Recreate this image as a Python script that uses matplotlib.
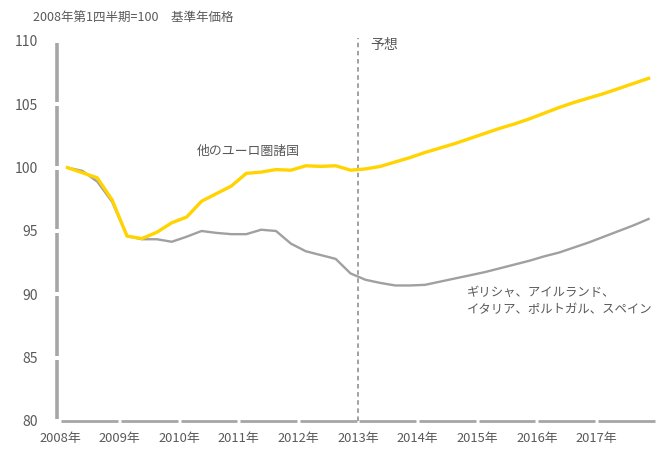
import matplotlib
matplotlib.use("Agg")
import matplotlib.pyplot as plt
import numpy as np

plt.rcParams['font.family'] = ['Noto Sans CJK JP', 'DejaVu Sans']

years = ["2008年", "2009年", "2010年", "2011年", "2012年",
         "2013年", "2014年", "2015年", "2016年", "2017年"]
y_ticks = [80, 85, 90, 95, 100, 105, 110]

# Quarterly index, 2008Q1 .. 2017Q4 (2008Q1 = 100)
other_euro = [100.0, 99.6, 99.2, 97.45, 94.6, 94.4, 94.9, 95.65, 96.1, 97.35,
              97.95, 98.55, 99.55, 99.65, 99.85, 99.8, 100.15, 100.1, 100.15, 99.8,
              99.9, 100.1, 100.45, 100.8, 101.2, 101.55, 101.9, 102.3, 102.7, 103.1,
              103.45, 103.85, 104.3, 104.75, 105.15, 105.5, 105.85, 106.25, 106.65, 107.05]
crisis = [100.0, 99.75, 98.9, 97.3, 94.6, 94.35, 94.35, 94.15, 94.55, 95.0,
          94.85, 94.75, 94.75, 95.1, 95.0, 94.0, 93.4, 93.1, 92.8, 91.65,
          91.15, 90.9, 90.7, 90.7, 90.75, 91.0, 91.25, 91.5, 91.75, 92.05,
          92.35, 92.65, 93.0, 93.3, 93.7, 94.1, 94.55, 95.0, 95.45, 95.95]

label_other = "他のユーロ圏諸国"
label_crisis = "ギリシャ、アイルランド、\nイタリア、ポルトガル、スペイン"
title_text = "2008年第1四半期=100　基準年価格"
forecast_text = "予想"
forecast_start = 20  # index of 2013Q1

TXT = "#595959"
AX = "#A6A6A6"
YEL = "#FFD400"
GRY = "#A0A0A0"

W, H = 665, 450
fig = plt.figure(figsize=(W / 100, H / 100), dpi=100)
ax = fig.add_axes([60 / W, 29 / H, 596 / W, 380 / H])

x = np.arange(len(other_euro))
ax.plot(x, crisis, color=GRY, lw=1.7, solid_joinstyle='round', zorder=3)
ax.plot(x, other_euro, color=YEL, lw=2.4, solid_joinstyle='round', zorder=4)

ax.set_xlim(-0.5, len(x) - 0.5)
ax.set_ylim(y_ticks[0], y_ticks[-1])

# forecast divider
xd = forecast_start - 0.5
ax.plot([xd, xd], [y_ticks[0], y_ticks[-1] + 0.25], color="#9A9A9A", lw=1.3,
        ls=(0, (2.5, 2)), clip_on=False, zorder=2)
ax.text(xd + 0.8, 109.7, forecast_text, color=TXT, fontsize=10, va='center', ha='left')

# labels
ax.text(8.7, 101.25, label_other, color=TXT, fontsize=9.3, va='center', ha='left')
ax.text(26.8, 89.45, label_crisis, color=TXT, fontsize=8.9, va='center', ha='left',
        linespacing=1.45)

fig.text(33 / W, 1 - 18 / H, title_text, color=TXT, fontsize=9, va='center', ha='left')

# ticks
xt = [i * 4 - 0.5 for i in range(len(years))]
ax.set_xticks(xt)
ax.set_xticklabels(years, color=TXT, fontsize=9.3)
ax.set_yticks(y_ticks)
ax.set_yticklabels([str(v) for v in y_ticks], color=TXT, fontsize=10)
ax.tick_params(axis='both', length=0)
ax.tick_params(axis='x', pad=8)
ax.tick_params(axis='y', pad=16)
for s in ax.spines.values():
    s.set_visible(False)

# segmented axis lines
gx = 0.1
bounds = xt + [len(x) - 0.5]
for a, b in zip(bounds[:-1], bounds[1:]):
    ax.plot([a + gx, b - gx], [y_ticks[0], y_ticks[0]], color=AX, lw=2,
            clip_on=False, solid_capstyle='butt', zorder=5)
gy = 0.15
for a, b in zip(y_ticks[:-1], y_ticks[1:]):
    ax.plot([-0.72, -0.72], [a + gy, b - gy], color=AX, lw=2.6,
            clip_on=False, solid_capstyle='butt', zorder=5)

fig.savefig("out.png", dpi=100, facecolor='white')
